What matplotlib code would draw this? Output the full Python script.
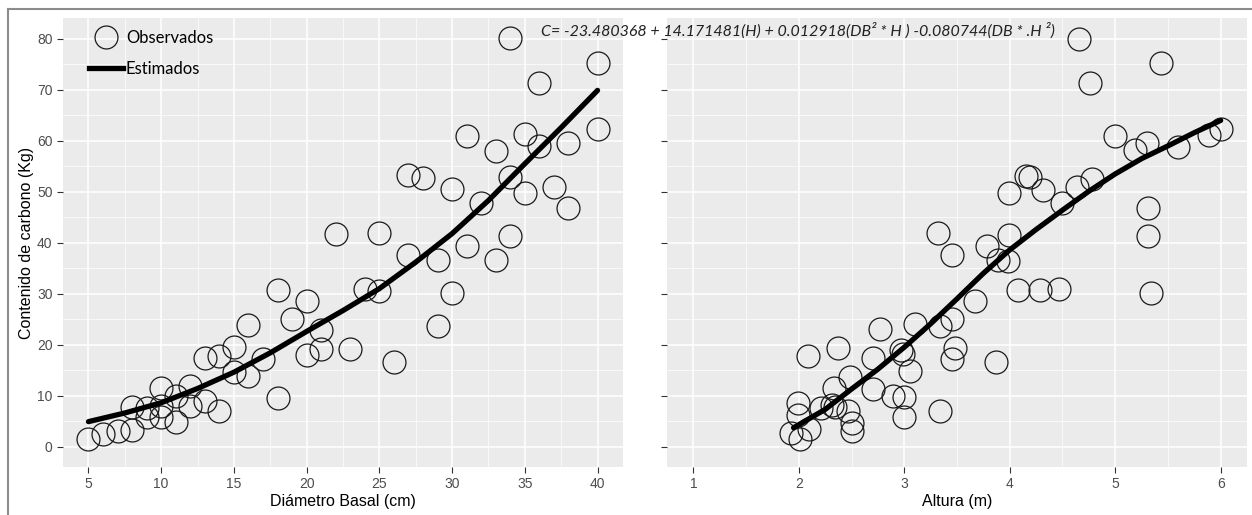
import matplotlib
matplotlib.use('Agg')
import matplotlib.pyplot as plt
from matplotlib.lines import Line2D

# observed values, left panel (diametro basal, cm)
db_obs = [5, 6, 7, 8, 8, 9, 9, 10, 10, 10, 11, 11, 12, 12, 13, 13, 14, 14, 15, 15,
          16, 16, 17, 18, 18, 19, 20, 20, 21, 21, 23, 24, 25, 26, 22, 25, 27, 28, 27, 29,
          29, 34, 40, 36, 31, 33, 35, 36, 38, 40, 30, 32, 34, 35, 37, 38, 31, 34, 33, 30]
c_db = [1.4, 2.4, 3.0, 3.3, 7.8, 5.9, 7.6, 11.5, 5.9, 8.0, 4.8, 9.9, 11.8, 8.0, 17.4, 8.9, 17.7, 6.9, 19.5, 14.6,
        23.9, 13.8, 17.1, 30.8, 9.5, 25.0, 28.5, 18.0, 22.9, 19.2, 19.2, 30.9, 30.6, 16.6, 41.8, 41.9, 53.3, 52.7, 37.6, 36.7,
        23.6, 80.1, 75.2, 71.4, 60.9, 58.0, 61.4, 58.9, 59.6, 62.4, 50.5, 47.8, 52.9, 49.8, 51.0, 46.9, 39.4, 41.3, 36.6, 30.1]

# observed values, right panel (altura, m)
h_obs = [1.93, 2.01, 1.99, 1.99, 2.10, 2.09, 2.21, 2.31, 2.33, 2.34, 2.37, 2.47, 2.49, 2.50, 2.50,
         2.70, 2.70, 2.77, 2.89, 2.97, 2.99, 3.00, 3.00, 3.05, 3.10, 3.32, 3.34, 3.34, 3.45, 3.45,
         3.45, 3.48, 3.67, 3.78, 3.87, 3.89, 3.98, 3.99, 3.99, 4.08, 4.15, 4.19, 4.29, 4.32, 4.47,
         4.50, 4.64, 4.66, 4.76, 4.78, 5.00, 5.19, 5.30, 5.31, 5.31, 5.34, 5.43, 5.60, 5.89, 6.00]
c_h = [2.7, 1.4, 8.6, 6.3, 3.5, 17.8, 7.6, 8.2, 11.5, 7.8, 19.3, 6.9, 13.6, 4.6, 3.0,
       17.4, 11.3, 23.1, 9.9, 19.0, 18.2, 9.7, 5.9, 14.8, 24.1, 41.9, 6.9, 23.6, 25.0, 17.2,
       37.5, 19.3, 28.5, 39.4, 16.7, 36.7, 36.5, 41.6, 49.7, 30.8, 53.1, 52.9, 30.8, 50.4, 30.9,
       47.8, 51.0, 79.9, 71.4, 52.5, 60.9, 58.2, 59.6, 46.9, 41.4, 30.1, 75.2, 58.8, 61.2, 62.4]

# estimated curves
db_est = [5, 7.5, 10, 12.5, 15, 17.5, 20, 22.5, 25, 27.5, 30, 32.5, 35, 37.5, 40]
c_db_est = [4.9, 6.6, 8.6, 11.4, 14.6, 18.4, 22.6, 26.7, 31.0, 36.2, 41.8, 48.3, 55.5, 62.6, 69.9]
h_est = [1.95, 2.25, 2.5, 2.75, 3.0, 3.25, 3.5, 3.75, 4.0, 4.25, 4.5, 4.75, 5.0, 5.25, 5.5, 5.75, 6.0]
c_h_est = [3.7, 7.3, 11.3, 15.2, 19.5, 24.1, 29.0, 34.0, 38.6, 42.6, 46.4, 50.1, 53.5, 56.5, 59.0, 61.6, 64.0]

equation = 'C= -23.480368 + 14.171481(H) + 0.012918(DB² * H ) -0.080744(DB * .H ²)'

plt.rcParams['font.family'] = ['Liberation Sans', 'DejaVu Sans']

fig = plt.figure(figsize=(12.52, 5.15), dpi=100)
ax1 = fig.add_axes([63 / 1252, 1 - 467 / 515, 560 / 1252, 449 / 515])
ax2 = fig.add_axes([667 / 1252, 1 - 467 / 515, 580 / 1252, 449 / 515], sharey=ax1)

for ax in (ax1, ax2):
    ax.set_facecolor('#EBEBEB')
    for s in ax.spines.values():
        s.set_visible(False)
    ax.grid(True, which='major', color='white', linewidth=1.1)
    ax.grid(True, which='minor', color='white', linewidth=0.5)
    ax.set_axisbelow(True)
    ax.tick_params(which='major', colors='#333333', labelcolor='#4D4D4D', labelsize=10, length=4, width=0.8)
    ax.tick_params(which='minor', length=0)

ax1.plot(db_obs, c_db, 'o', ms=16.5, mfc='none', mec='#1a1a1a', mew=0.9)
ax1.plot(db_est, c_db_est, color='black', linewidth=3.8, solid_capstyle='round', solid_joinstyle='round')
ax2.plot(h_obs, c_h, 'o', ms=16.5, mfc='none', mec='#1a1a1a', mew=0.9)
ax2.plot(h_est, c_h_est, color='black', linewidth=3.8, solid_capstyle='round', solid_joinstyle='round')

ax1.set_xlim(3.25, 41.75)
ax1.set_xticks([5, 10, 15, 20, 25, 30, 35, 40])
ax1.set_xticks([7.5, 12.5, 17.5, 22.5, 27.5, 32.5, 37.5], minor=True)
ax1.set_ylim(-4.0, 84.1)
ax1.set_yticks([0, 10, 20, 30, 40, 50, 60, 70, 80])
ax1.set_yticks([5, 15, 25, 35, 45, 55, 65, 75], minor=True)

ax2.set_xlim(0.75, 6.25)
ax2.set_xticks([1, 2, 3, 4, 5, 6])
ax2.set_xticks([1.5, 2.5, 3.5, 4.5, 5.5], minor=True)
ax2.tick_params(axis='y', labelleft=False)

ax1.set_xlabel('Diámetro Basal (cm)', fontsize=11.5, labelpad=2)
ax2.set_xlabel('Altura (m)', fontsize=11.5, labelpad=2)
ax1.set_ylabel('Contenido de carbono (Kg)', fontsize=11.5, labelpad=2)

handles = [Line2D([], [], marker='o', ls='none', ms=16.5, mfc='none', mec='#1a1a1a', mew=0.9),
           Line2D([], [], color='black', linewidth=3.8)]
leg = ax1.legend(handles, ['Observados', 'Estimados'], loc='upper left', frameon=False,
                 prop={'family': 'Lato', 'size': 12}, handlelength=2.0, handletextpad=0.2,
                 labelspacing=0.9, borderaxespad=0.3, bbox_to_anchor=(0.026, 1.0))

fig.text(541 / 1252, 1 - 31 / 515, equation, fontsize=11.5, style='italic',
         family=['Lato', 'DejaVu Sans'], color='#222222', va='center', ha='left')

# outer frame
fig.add_artist(Line2D([8 / 1252, 1], [1 - 9 / 515, 1 - 9 / 515], color='#8c8c8c', linewidth=1.5))
fig.add_artist(Line2D([8 / 1252, 8 / 1252], [0, 1 - 9 / 515], color='#8c8c8c', linewidth=1.5))

fig.savefig('out.png', dpi=100)
